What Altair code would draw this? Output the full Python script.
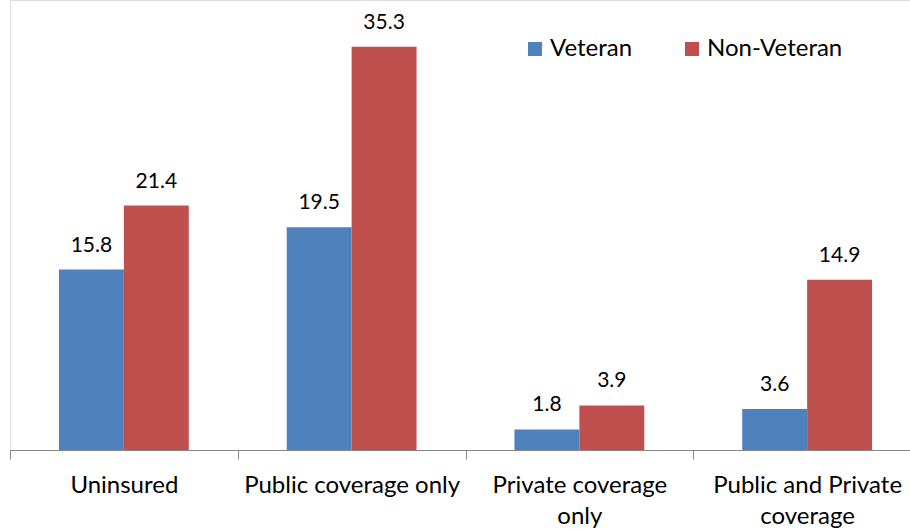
import altair as alt
import pandas as pd

# Health coverage share (%) by veteran status
categories = ["Uninsured", "Public coverage only", "Private coverage only", "Public and Private coverage"]
groups = ["Veteran", "Non-Veteran"]
veteran = [15.8, 19.5, 1.8, 3.6]
non_veteran = [21.4, 35.3, 3.9, 14.9]
colors = ["#4F81BD", "#C0504D"]

rows = []
for cat, v, nv in zip(categories, veteran, non_veteran):
    rows.append({"category": cat, "group": "Veteran", "value": v})
    rows.append({"category": cat, "group": "Non-Veteran", "value": nv})
df = pd.DataFrame(rows)

FONT = "Lato"

label_expr = (
    "datum.label == 'Private coverage only' ? ['Private coverage', 'only'] : "
    "datum.label == 'Public and Private coverage' ? ['Public and Private', 'coverage'] : datum.label"
)

x = alt.X(
    "category:N",
    sort=categories,
    title=None,
    scale=alt.Scale(paddingInner=0, paddingOuter=0, range=[0, 911]),
    axis=alt.Axis(
        labelAngle=0,
        labelExpr=label_expr,
        labelFont=FONT,
        labelFontSize=24,
        labelColor="#000000",
        labelLineHeight=31,
        labelPadding=14,
        labelLimit=400,
        tickBand="extent",
        tickSize=9,
        tickColor="#868686",
        domainColor="#868686",
        grid=False,
    ),
)
x_off = alt.XOffset("group:N", sort=groups, scale=alt.Scale(paddingOuter=0.754, paddingInner=0))
y = alt.Y("value:Q", axis=None, scale=alt.Scale(domain=[0, 39.4], nice=False, zero=True))

bars = alt.Chart(df).mark_bar().encode(
    x=x,
    xOffset=x_off,
    y=y,
    color=alt.Color(
        "group:N",
        sort=groups,
        scale=alt.Scale(domain=groups, range=colors),
        legend=alt.Legend(
            title=None,
            orient="none",
            legendX=513,
            legendY=37,
            padding=0,
            direction="horizontal",
            symbolType="square",
            symbolSize=196,
            symbolStrokeWidth=0,
            labelFont=FONT,
            labelFontSize=24,
            labelColor="#000000",
            labelOffset=3,
            columnPadding=47,
        ),
    ),
)

labels = alt.Chart(df).mark_text(
    font=FONT, fontSize=21, color="#000000", baseline="alphabetic", dy=-18
).encode(
    x=x,
    xOffset=x_off,
    y=y,
    text=alt.Text("value:Q", format=".1f"),
)

chart = (
    alt.layer(bars, labels)
    .properties(
        width=900,
        height=450,
        autosize=alt.AutoSizeParams(type="none"),
        padding={"left": 10, "top": 0, "right": 0, "bottom": 79},
    )
    .configure_view(stroke=None, strokeWidth=0)
    .configure_axis(grid=False)
    .configure(background="#FFFFFF")
)

chart.save("out.html", embed_options={"renderer": "svg", "actions": False})
